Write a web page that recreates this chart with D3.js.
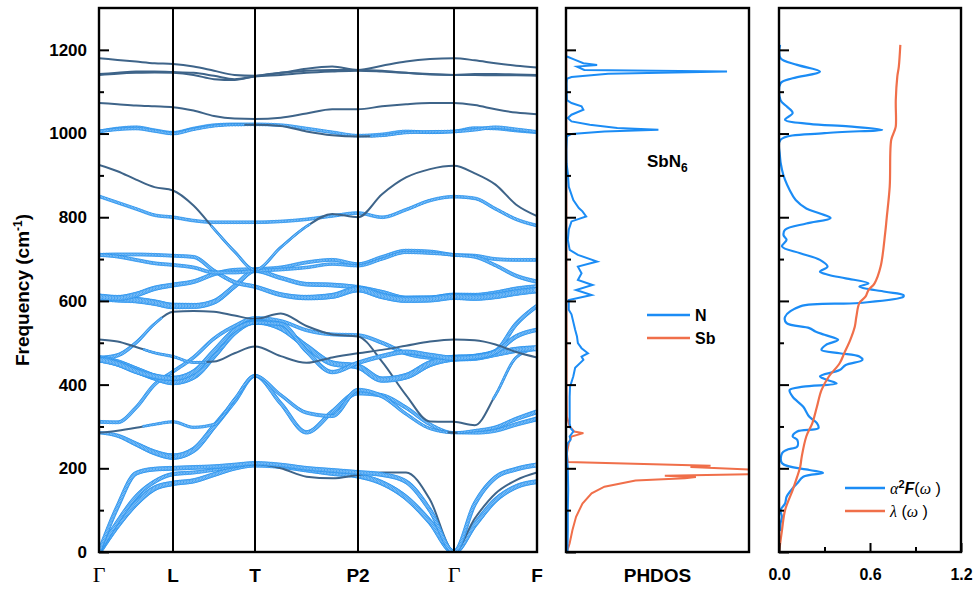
<!DOCTYPE html>
<html>
<head>
<meta charset="utf-8">
<script src="https://cdn.jsdelivr.net/npm/d3@7"></script>
<style>
  body { margin: 0; background: #fff; }
  svg text { font-family: "Liberation Sans", Arial, sans-serif; font-weight: bold; fill: #000; }
</style>
</head>
<body>
<svg id="chart" width="976" height="590"></svg>
<script>
// ---- data ----
const kLabels = ['Γ', 'L', 'T', 'P2', 'Γ', 'F']
const kNodes = [0, 0.74, 1.56, 2.59, 3.55, 4.38]
const kGrid = [0, 0.185, 0.37, 0.555, 0.74, 0.945, 1.15, 1.355, 1.56, 1.8175, 2.075, 2.3325, 2.59,
    2.83, 3.07, 3.31, 3.55, 3.7575, 3.965, 4.1725, 4.38]

// phonon branches (cm-1) sampled on kGrid
const bands = [
    [0, 64, 116, 152, 164, 170, 185, 200, 207, 204, 196, 188, 182, 165, 130, 72, 0, 65, 124, 156, 168],
    [0, 72, 132, 168, 186, 190, 196, 204, 210, 200, 180, 176, 184, 190, 190, 125, 0, 80, 140, 172, 190],
    [0, 108, 188, 198, 200, 202, 204, 208, 212, 208, 200, 195, 190, 185, 168, 100, 0, 115, 178, 198, 208],
    [285, 278, 258, 238, 228, 244, 300, 360, 421, 355, 286, 335, 380, 374, 345, 305, 285, 285, 290, 305, 318],
    [285, 290, 297, 305, 311, 298, 305, 365, 421, 375, 333, 325, 387, 372, 330, 295, 285, 290, 298, 318, 335],
    [311, 310, 345, 400, 431, 465, 510, 540, 559, 552, 530, 520, 518, 500, 475, 465, 463, 468, 480, 545, 588],
    [463, 470, 500, 545, 574, 576, 574, 565, 557, 570, 540, 520, 515, 455, 375, 312, 311, 303, 375, 465, 487],
    [462, 452, 435, 418, 407, 420, 470, 525, 550, 535, 491, 451, 443, 412, 420, 450, 463, 465, 474, 483, 487],
    [460, 450, 432, 420, 415, 430, 480, 530, 548, 545, 480, 430, 452, 468, 478, 470, 463, 466, 478, 515, 531],
    [508, 503, 490, 476, 467, 453, 455, 475, 491, 468, 452, 465, 475, 483, 493, 503, 508, 506, 496, 478, 465],
    [607, 604, 602, 596, 588, 588, 598, 635, 672, 655, 640, 638, 632, 620, 606, 606, 612, 612, 618, 628, 634],
    [710, 711, 711, 710, 708, 705, 672, 645, 634, 615, 608, 612, 628, 612, 603, 604, 610, 608, 612, 620, 626],
    [610, 607, 615, 630, 638, 646, 664, 674, 676, 680, 692, 698, 688, 705, 720, 718, 710, 708, 700, 698, 698],
    [710, 706, 698, 690, 686, 680, 668, 668, 672, 675, 680, 688, 684, 700, 716, 714, 710, 705, 685, 660, 646],
    [850, 835, 820, 805, 800, 792, 788, 788, 788, 790, 795, 803, 810, 800, 818, 840, 849, 845, 820, 795, 780],
    [925, 910, 890, 872, 864, 828, 772, 718, 674, 728, 778, 808, 800, 855, 895, 915, 923, 905, 878, 830, 803],
    [1005, 1012, 1015, 1008, 1002, 1012, 1020, 1022, 1022, 1020, 1012, 1003, 995, 998, 1005, 1003, 1005, 1013, 1012, 1007, 1003],
    [1005, 1010, 1012, 1006, 1000, 1010, 1018, 1021, 1021, 1018, 1005, 996, 993, 995, 1002, 1004, 1005, 1009, 1015, 1010, 1004],
    [1073, 1070, 1067, 1065, 1063, 1055, 1042, 1036, 1035, 1038, 1048, 1058, 1058, 1065, 1070, 1073, 1073, 1068, 1058, 1050, 1046],
    [1180, 1176, 1172, 1168, 1166, 1160, 1150, 1140, 1138, 1145, 1155, 1160, 1152, 1162, 1172, 1178, 1180, 1175, 1168, 1162, 1158],
    [1142, 1145, 1148, 1148, 1147, 1145, 1138, 1130, 1136, 1140, 1145, 1148, 1150, 1148, 1145, 1142, 1140, 1142, 1142, 1141, 1140],
    [1140, 1143, 1145, 1146, 1145, 1140, 1130, 1128, 1137, 1145, 1150, 1152, 1152, 1150, 1145, 1141, 1140, 1140, 1139, 1139, 1138]
]

// N projection weight of each branch at the high-symmetry points
const bandWeights = [
    [0.8, 0.7, 0.5, 0.7, 0.7, 0.6],
    [0.5, 0.5, 0.2, 0.15, 0.1, 0.15],
    [0.5, 0.6, 0.5, 0.6, 0.5, 0.6],
    [0.3, 0.9, 0.4, 0.6, 0.3, 0.6],
    [0.1, 0.3, 0.3, 0.5, 0.2, 0.6],
    [0.4, 0.4, 0.4, 0.4, 0.6, 0.5],
    [0.6, 0.15, 0.15, 0.2, 0.15, 0.3],
    [1, 1, 0.7, 0.8, 1, 0.8],
    [0.8, 0.7, 0.5, 0.5, 0.7, 0.5],
    [0.1, 0.3, 0.1, 0.1, 0.1, 0.1],
    [0.9, 0.9, 0.5, 0.6, 0.9, 0.6],
    [0.4, 0.4, 0.5, 0.9, 0.9, 0.9],
    [0.9, 0.6, 0.4, 0.4, 0.4, 0.4],
    [0.4, 0.4, 0.4, 0.3, 0.3, 0.5],
    [0.35, 0.35, 0.35, 0.35, 0.35, 0.35],
    [0.15, 0.15, 0.3, 0.15, 0.15, 0.2],
    [0.35, 0.35, 0.35, 0.35, 0.35, 0.35],
    [0.35, 0.35, 0.2, 0.2, 0.35, 0.35],
    [0.1, 0.1, 0.1, 0.1, 0.1, 0.1],
    [0.1, 0.1, 0.1, 0.1, 0.1, 0.1],
    [0.1, 0.1, 0.1, 0.1, 0.1, 0.1],
    [0.1, 0.1, 0.1, 0.1, 0.1, 0.1]
]

// projected phonon DOS
const nFreq = [0, 50, 100, 150, 200, 230, 250, 260, 268, 276, 288, 296, 307, 339, 371, 395, 420, 440, 459, 467,
    475, 487, 499, 515, 531, 568, 579, 602, 614, 626, 638, 650, 666, 682, 694, 710, 722, 746, 770, 790, 802, 814,
    822, 841, 873, 905, 929, 960, 993, 999, 1005, 1009, 1013, 1021, 1029, 1037, 1045, 1057, 1065, 1073, 1080,
    1120, 1131, 1135, 1143, 1148, 1152, 1160, 1164, 1168, 1176, 1184]
const nDos = [0.08, 0.1, 0.1, 0.12, 0.1, 0.05, 0.05, 0.1, 0.25, 0.2, 0.4, 0.25, 0.2, 0.2, 0.2, 0.22, 0.4, 0.5, 0.95, 0.85,
    1.2, 0.85, 0.65, 0.6, 0.5, 0.3, 0.15, 0.15, 1.4, 0.55, 1.45, 0.65, 0.85, 0.65, 1.7, 0.65, 0.2, 0.1, 0.15, 0.3, 1.1, 0.9,
    0.7, 0.4, 0.15, 0.1, 0.03, 0.02, 0.05, 0.3, 2.1, 5.05, 2.8, 1.3, 0.3, 0.1, 0.3, 0.95, 0.85, 0.3, 0.05,
    0.03, 0.05, 0.3, 2.3, 8.8, 1.0, 0.6, 1.7, 0.95, 0.5, 0.05]
const sbFreq = [0, 21, 52, 84, 116, 140, 156, 171, 176, 179, 182, 186, 192, 196, 203, 206, 215, 236, 260, 276, 284,
    288, 300, 323, 400, 700, 1200]
const sbDos = [0.05, 0.2, 0.35, 0.55, 0.9, 1.4, 2.1, 3.8, 6.5, 7.1, 5.4, 10.5, 12, 10.5, 6.8, 7.9, 0.1, 0.05, 0.15, 0.3, 0.95,
    0.45, 0.2, 0.05, 0.03, 0.02, 0.01]

// Eliashberg function and cumulative coupling
const a2fFreq = [50, 68, 84, 100, 116, 132, 148, 164, 180, 189, 196, 212, 236, 244, 252, 268, 276, 288, 296, 308, 323,
    347, 371, 387, 395, 403, 412, 420, 435, 447, 459, 467, 475, 483, 495, 507, 519, 527, 535, 547, 562, 587, 595,
    610, 614, 622, 634, 642, 654, 662, 670, 682, 698, 714, 730, 746, 757, 770, 785, 798, 809, 821, 841, 865, 889,
    913, 950, 985, 1001, 1009, 1017, 1023, 1033, 1049, 1065, 1080, 1120, 1132, 1148, 1164, 1180, 1212]
const a2f = [0.01, 0.01, 0.02, 0.01, 0.04, 0.05, 0.08, 0.12, 0.16, 0.29, 0.2, 0.02, 0.02, 0.05, 0.12, 0.12, 0.09, 0.12,
    0.26, 0.25, 0.2, 0.16, 0.09, 0.07, 0.16, 0.38, 0.31, 0.27, 0.4, 0.44, 0.55, 0.53, 0.4, 0.28, 0.31, 0.39, 0.3, 0.24,
    0.2, 0.05, 0.04, 0.14, 0.53, 0.82, 0.82, 0.7, 0.53, 0.59, 0.44, 0.33, 0.27, 0.32, 0.27, 0.14, 0.02, 0.05, 0.03,
    0.04, 0.18, 0.34, 0.27, 0.18, 0.11, 0.07, 0.04, 0.02, 0.005, 0.01, 0.3, 0.68, 0.46, 0.2, 0.04, 0.09, 0.05, 0.01,
    0.01, 0.09, 0.27, 0.12, 0.01, 0.007]
const lamFreq = [0, 53, 100, 148, 180, 204, 228, 276, 308, 347, 387, 420, 451, 475, 507, 539, 562, 595, 610, 626, 642,
    682, 762, 798, 873, 985, 1005, 1017, 1080, 1136, 1160, 1212]
const lam = [0, 0.02, 0.04, 0.09, 0.12, 0.14, 0.15, 0.18, 0.22, 0.25, 0.28, 0.33, 0.4, 0.43, 0.47, 0.5, 0.51, 0.53,
    0.57, 0.59, 0.63, 0.67, 0.7, 0.71, 0.73, 0.74, 0.76, 0.77, 0.77, 0.78, 0.79, 0.8]

const freqTicks = [0, 200, 400, 600, 800, 1000, 1200]
const freqMinor = [100, 300, 500, 700, 900, 1100]
const lamTicks = [0, 0.6, 1.2]
const lamMinor = [0.3, 0.9]

// ---- layout ----
const svg = d3.select('#chart')
const box = { top: 8, bottom: 552 }
const panels = [{ x0: 99, x1: 537 }, { x0: 566, x1: 749 }, { x0: 779, x1: 961 }]
const blue = '#1b8cf5'
const orange = '#f06f4a'

const y = d3.scaleLinear().domain([0, 1300]).range([box.bottom, box.top])
const xBand = d3.scaleLinear().domain([0, kNodes[kNodes.length - 1]]).range([panels[0].x0, panels[0].x1])
const xDos = d3.scaleLinear().domain([0, 10]).range([panels[1].x0, panels[1].x1])
const xEli = d3.scaleLinear().domain([0, 1.2]).range([panels[2].x0, panels[2].x1])

const defs = svg.append('defs')
panels.forEach((p, i) => {
    defs.append('clipPath').attr('id', 'clip' + i)
        .append('rect').attr('x', p.x0).attr('y', box.top).attr('width', p.x1 - p.x0).attr('height', box.bottom - box.top)
})

// ---- band structure ----
const bandLine = d3.line()
    .x((d, i) => xBand(kGrid[i]))
    .y(d => y(d))
    .curve(d3.curveMonotoneX)

const gBands = svg.append('g').attr('clip-path', 'url(#clip0)')

bands.forEach((b, bi) => {
    const path = gBands.append('path')
        .attr('d', bandLine(b))
        .attr('fill', 'none')
        .attr('stroke', '#3e6489')
        .attr('stroke-width', 2)
    const node = path.node()
    const len = node.getTotalLength()
    const wScale = d3.scaleLinear().domain(kNodes).range(bandWeights[bi])
    const pts = []
    for (let s = 0; s <= len; s += 1.5) {
        const p = node.getPointAtLength(s)
        const w = wScale(xBand.invert(p.x))
        if (w > 0.22) pts.push({ x: p.x, y: p.y, r: 0.45 + 2.7 * w })
    }
    gBands.append('g').selectAll('circle').data(pts).enter().append('circle')
        .attr('cx', d => d.x)
        .attr('cy', d => d.y)
        .attr('r', d => d.r)
        .attr('fill', '#9fd0fb')
        .attr('stroke', '#2590ee')
        .attr('stroke-width', 0.8)
})

// high-symmetry separators
svg.append('g').selectAll('line').data(kNodes.slice(1, -1)).enter().append('line')
    .attr('x1', d => xBand(d)).attr('x2', d => xBand(d))
    .attr('y1', box.top).attr('y2', box.bottom)
    .attr('stroke', '#000').attr('stroke-width', 2)

svg.append('g').selectAll('text').data(kNodes).enter().append('text')
    .attr('x', d => xBand(d))
    .attr('y', 582)
    .attr('text-anchor', 'middle')
    .style('font-family', (d, i) => kLabels[i] === 'Γ' ? '"Liberation Serif", "DejaVu Serif", serif' : null)
    .style('font-weight', (d, i) => kLabels[i] === 'Γ' ? 'normal' : 'bold')
    .style('font-size', (d, i) => kLabels[i] === 'Γ' ? '22px' : '19px')
    .text((d, i) => kLabels[i])

// ---- phonon DOS ----
const dosLine = d3.line().x(d => xDos(d[1])).y(d => y(d[0]))
const gDos = svg.append('g').attr('clip-path', 'url(#clip1)')
gDos.append('path').attr('d', dosLine(d3.zip(sbFreq, sbDos)))
    .attr('fill', 'none').attr('stroke', orange).attr('stroke-width', 2)
gDos.append('path').attr('d', dosLine(d3.zip(nFreq, nDos)))
    .attr('fill', 'none').attr('stroke', blue).attr('stroke-width', 2)

const dosLegend = [{ name: 'N', color: blue }, { name: 'Sb', color: orange }]
const legDos = svg.append('g').attr('transform', 'translate(647, 315)')
dosLegend.forEach((d, i) => {
    legDos.append('line').attr('x1', 0).attr('x2', 43).attr('y1', i * 23).attr('y2', i * 23)
        .attr('stroke', d.color).attr('stroke-width', 2.5)
    legDos.append('text').attr('x', 48).attr('y', i * 23 + 6).style('font-size', '16px').text(d.name)
})

const formula = svg.append('text').attr('x', 647).attr('y', 167).style('font-size', '17px')
formula.append('tspan').text('SbN')
formula.append('tspan').attr('dy', 5).style('font-size', '12px').text('6')

svg.append('text').attr('x', (panels[1].x0 + panels[1].x1) / 2).attr('y', 582)
    .attr('text-anchor', 'middle').style('font-size', '19px').text('PHDOS')

// ---- Eliashberg panel ----
const eliLine = d3.line().x(d => xEli(d[1])).y(d => y(d[0])).curve(d3.curveCatmullRom)
const gEli = svg.append('g').attr('clip-path', 'url(#clip2)')
gEli.append('path').attr('d', eliLine(d3.zip(a2fFreq, a2f)))
    .attr('fill', 'none').attr('stroke', blue).attr('stroke-width', 2.2)
gEli.append('path').attr('d', eliLine(d3.zip(lamFreq, lam)))
    .attr('fill', 'none').attr('stroke', orange).attr('stroke-width', 2.2)

const legEli = svg.append('g').attr('transform', 'translate(845, 488)')
legEli.append('line').attr('x1', 0).attr('x2', 40).attr('y1', 0).attr('y2', 0).attr('stroke', blue).attr('stroke-width', 2.5)
legEli.append('line').attr('x1', 0).attr('x2', 40).attr('y1', 23).attr('y2', 23).attr('stroke', orange).attr('stroke-width', 2.5)
const serifIt = '"Liberation Serif", "DejaVu Serif", serif'
const t1 = legEli.append('text').attr('x', 45).attr('y', 6).style('font-size', '16px')
t1.append('tspan').style('font-family', serifIt).style('font-style', 'italic').style('font-weight', 'normal').text('α')
t1.append('tspan').attr('dy', -6).style('font-size', '11px').text('2')
t1.append('tspan').attr('dy', 6).style('font-style', 'italic').text('F')
t1.append('tspan').style('font-weight', 'normal').text('(')
t1.append('tspan').style('font-family', serifIt).style('font-style', 'italic').style('font-weight', 'normal').text('ω')
t1.append('tspan').style('font-weight', 'normal').text(' )')
const t2 = legEli.append('text').attr('x', 45).attr('y', 29).style('font-size', '16px')
t2.append('tspan').style('font-family', serifIt).style('font-style', 'italic').style('font-weight', 'normal').text('λ')
t2.append('tspan').style('font-weight', 'normal').text(' (')
t2.append('tspan').style('font-family', serifIt).style('font-style', 'italic').style('font-weight', 'normal').text('ω')
t2.append('tspan').style('font-weight', 'normal').text(' )')

// x axis of the Eliashberg panel (ticks inward)
const xEliMajor = svg.append('g').attr('transform', `translate(0, ${box.bottom})`)
    .call(d3.axisBottom(xEli).tickValues(lamTicks).tickSize(-9).tickPadding(17).tickFormat(d3.format('.1f')))
const xEliMinor = svg.append('g').attr('transform', `translate(0, ${box.bottom})`)
    .call(d3.axisBottom(xEli).tickValues(lamMinor).tickSize(-5).tickFormat(''))
;[xEliMajor, xEliMinor].forEach(g => {
    g.selectAll('.domain').remove()
    g.selectAll('line').attr('stroke-width', 2)
    g.selectAll('text').style('font-size', '16px')
})

// ---- frequency axes on every panel ----
panels.forEach((p, i) => {
    const gMajor = svg.append('g').attr('transform', `translate(${p.x0}, 0)`)
        .call(d3.axisLeft(y).tickValues(freqTicks).tickSize(-10).tickPadding(12)
            .tickFormat(i === 0 ? d3.format('d') : ''))
    const gMinor = svg.append('g').attr('transform', `translate(${p.x0}, 0)`)
        .call(d3.axisLeft(y).tickValues(freqMinor).tickSize(-5).tickFormat(''))
    ;[gMajor, gMinor].forEach(g => {
        g.selectAll('.domain').remove()
        g.selectAll('line').attr('stroke-width', 2)
        g.selectAll('text').style('font-size', '17px')
    })
    svg.append('rect')
        .attr('x', p.x0).attr('y', box.top)
        .attr('width', p.x1 - p.x0).attr('height', box.bottom - box.top)
        .attr('fill', 'none').attr('stroke', '#000').attr('stroke-width', 2.4)
})

const yTitle = svg.append('text')
    .attr('transform', 'translate(29, 290) rotate(-90)')
    .attr('text-anchor', 'middle')
    .style('font-size', '19px')
yTitle.append('tspan').text('Frequency (cm')
yTitle.append('tspan').attr('dy', -7).style('font-size', '12px').text('-1')
yTitle.append('tspan').attr('dy', 7).text(')')
</script>
</body>
</html>
